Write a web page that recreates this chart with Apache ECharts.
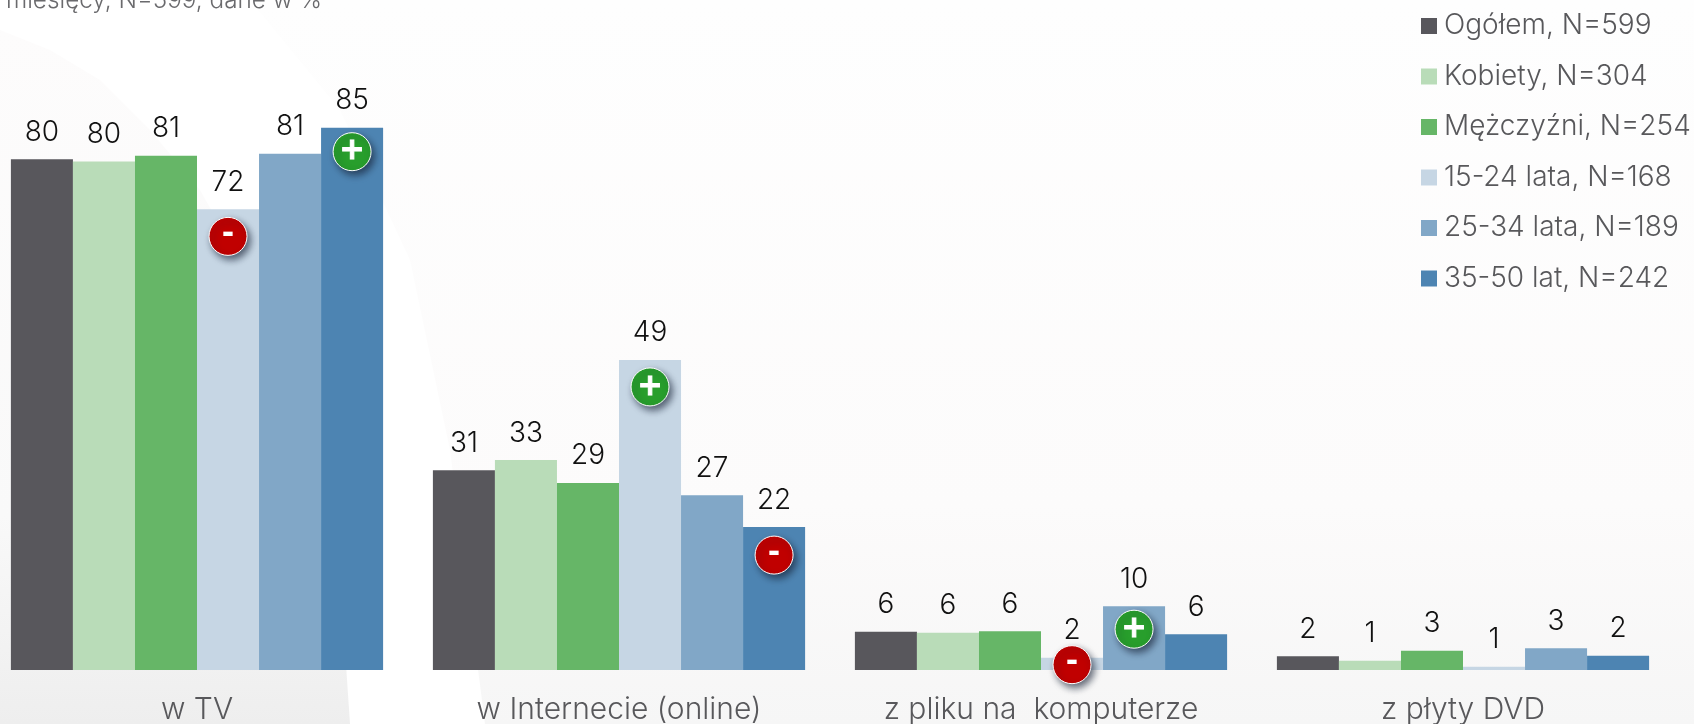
<!DOCTYPE html>
<html>
<head>
<meta charset="utf-8">
<title>Chart</title>
<style>
  html, body { margin: 0; padding: 0; background: #fff; }
  #chart { width: 1694px; height: 724px; }
</style>
<script src="https://cdn.jsdelivr.net/npm/echarts@6/dist/echarts.min.js"></script>
</head>
<body>
<div id="chart"></div>
<script>
const categories = ["w TV", "w Internecie (online)", "z pliku na  komputerze", "z płyty DVD"];
const seriesNames = ["Ogółem, N=599", "Kobiety, N=304", "Mężczyźni, N=254", "15-24 lata, N=168", "25-34 lata, N=189", "35-50 lat, N=242"];

const ogolem = [80.05, 31.3, 6.0, 2.14];
const kobiety = [79.7, 32.9, 5.85, 1.46];
const mezczyzni = [80.6, 29.3, 6.06, 3.03];
const lata1524 = [72.2, 48.6, 1.93, 0.52];
const lata2534 = [80.9, 27.4, 10.0, 3.4];
const lata3550 = [85.0, 22.4, 5.6, 2.25];
const allValues = [ogolem, kobiety, mezczyzni, lata1524, lata2534, lata3550];

// [category index, series index, sign]
const badges = [
  [0, 3, "-"],
  [0, 5, "+"],
  [1, 3, "+"],
  [1, 5, "-"],
  [2, 3, "-"],
  [2, 4, "+"],
];
const badgeDrops = [27, 24, 27, 28, 7, 23];

const colors = ["#58575c", "#b9dcb8", "#66b667", "#c6d6e4", "#81a7c7", "#4d84b2"];
const gapPercent = 11.8;
const fontName = "Inter, 'Noto Sans', sans-serif";

const myChart = echarts.init(document.getElementById("chart"));

const barSeries = seriesNames.map((name, i) => ({
  name: name,
  type: "bar",
  barGap: 0,
  barCategoryGap: gapPercent + "%",
  itemStyle: { color: colors[i] },
  label: {
    show: true,
    position: "top",
    distance: 13,
    color: "#111",
    fontSize: 28,
    fontFamily: fontName,
    fontWeight: 300,
    formatter: (p) => Math.round(p.value),
  },
  data: allValues[i],
}));

const badgeSeries = {
  type: "custom",
  silent: true,
  z: 10,
  data: badges.map((b, i) => [b[0], allValues[b[1]][b[0]], b[1], i]),
  encode: { x: 0, y: 1 },
  renderItem: (params, api) => {
    const pt = api.coord([api.value(0), api.value(1)]);
    const band = api.size([1, 0])[0];
    const barWidth = (band * (1 - gapPercent / 100)) / 6;
    const idx = api.value(3);
    const cx = pt[0] + (api.value(2) - 2.5) * barWidth;
    const cy = pt[1] + badgeDrops[idx];
    const plus = badges[idx][2] === "+";
    return {
      type: "group",
      children: [
        {
          type: "circle",
          shape: { cx: cx, cy: cy, r: 19 },
          style: {
            fill: plus ? "#289e2c" : "#c00000",
            stroke: "#fff",
            lineWidth: 1,
            shadowColor: "rgba(20,30,50,0.65)",
            shadowBlur: 7,
            shadowOffsetX: 3,
            shadowOffsetY: 4,
          },
        },
        {
          type: "text",
          style: {
            x: cx,
            y: cy + (plus ? 0 : -1),
            text: badges[idx][2],
            align: "center",
            verticalAlign: "middle",
            fill: "#fff",
            stroke: plus ? "#fff" : null,
            lineWidth: plus ? 1 : 0,
            fontSize: 30,
            fontWeight: "bold",
            fontFamily: "'DejaVu Sans'",
          },
        },
      ],
    };
  },
};

const option = {
  backgroundColor: "#fff",
  animation: false,
  graphic: [
    {
      type: "polygon",
      z: -10,
      silent: true,
      shape: {
        points: [[0, 30], [50, 50], [100, 80], [150, 130], [200, 190], [245, 270], [280, 350], [310, 450], [330, 550], [345, 650], [350, 724], [0, 724]],
      },
      style: {
        fill: new echarts.graphic.LinearGradient(0, 0, 0, 1, [
          { offset: 0, color: "#fdfcfc" },
          { offset: 0.7, color: "#f9f9f9" },
          { offset: 1, color: "#eeeeee" },
        ]),
      },
    },
    {
      type: "polygon",
      z: -10,
      silent: true,
      shape: { points: [[250, 0], [340, 110], [410, 260], [450, 450], [485, 724], [1694, 724], [1694, 0]] },
      style: {
        fill: new echarts.graphic.LinearGradient(0, 0, 0, 1, [
          { offset: 0, color: "#fefefe" },
          { offset: 0.7, color: "#fcfbfb" },
          { offset: 1, color: "#f6f6f6" },
        ]),
      },
    },
  ],
  title: {
    text: "miesięcy, N=599, dane w %",
    left: 6,
    top: -11,
    padding: 0,
    textStyle: { color: "#6a6a6d", fontSize: 24.3, fontWeight: 300, fontFamily: fontName },
  },
  legend: {
    orient: "vertical",
    left: 1421,
    top: 12,
    padding: 0,
    data: seriesNames,
    icon: "rect",
    itemWidth: 16,
    itemHeight: 16,
    itemGap: 22.5,
    selectedMode: false,
    textStyle: {
      color: "#58585b",
      fontSize: 28,
      lineHeight: 24,
      fontFamily: fontName,
      fontWeight: 300,
      padding: [0, 0, 0, 2],
    },
  },
  grid: { left: -14, width: 1688, top: 32, bottom: 54, outerBoundsMode: "none" },
  xAxis: {
    type: "category",
    data: categories,
    axisLine: { show: false },
    axisTick: { show: false },
    axisLabel: { color: "#58585b", fontSize: 30, margin: 25, fontFamily: fontName, fontWeight: 300 },
  },
  yAxis: { type: "value", min: 0, max: 100, show: false },
  series: [...barSeries, badgeSeries],
};

option && myChart.setOption(option);
</script>
</body>
</html>
